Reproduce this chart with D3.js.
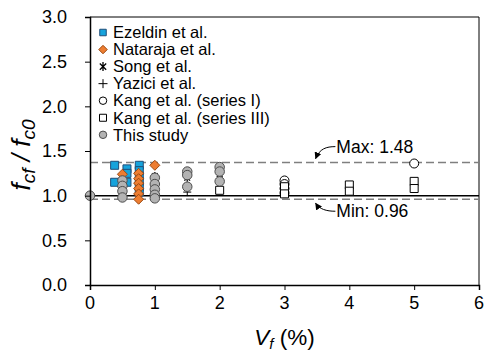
<!DOCTYPE html>
<html>
<head>
<meta charset="utf-8">
<script src="https://cdn.jsdelivr.net/npm/d3@7/dist/d3.min.js"></script>
<style>
  body { margin: 0; background: #fff; }
  text { font-family: Arial, "Liberation Sans", sans-serif; fill: #000; }
</style>
</head>
<body>
<div id="chart"></div>
<script>

// legend order = drawing order
var seriesNames = ["Ezeldin et al.", "Nataraja et al.", "Song et al.", "Yazici et al.",
  "Kang et al. (series I)", "Kang et al. (series III)", "This study"];

// [Vf (%), fcf/fc0]
var ezeldin = [[0.38, 1.34], [0.38, 1.15], [0.57, 1.30], [0.57, 1.25], [0.57, 1.15],
  [0.76, 1.34], [0.76, 1.28], [0.76, 1.22], [0.76, 1.16], [0.76, 1.10], [0.76, 1.04]];
var nataraja = [[0.5, 1.24], [0.75, 1.25], [0.75, 1.19], [0.75, 1.14], [0.75, 1.08],
  [0.75, 1.02], [0.75, 0.96], [1.0, 1.34]];
var song = [[0.5, 1.08], [1.0, 1.22], [1.5, 1.20], [2.0, 1.24]];
var yazici = [[0.5, 1.12], [1.0, 1.10], [1.5, 1.04]];
var kangI = [[3, 1.17], [3, 1.13], [3, 1.08], [3, 1.03], [5, 1.36]];
var kangIII = [[2, 1.06], [3, 1.10], [3, 1.02], [4, 1.12], [4, 1.05], [5, 1.16], [5, 1.08]];
var thisStudy = [[0, 1.0], [0.5, 1.17], [0.5, 1.11], [0.5, 1.05], [0.5, 0.98],
  [1.0, 1.20], [1.0, 1.13], [1.0, 1.07], [1.0, 1.01], [1.0, 0.97],
  [1.5, 1.27], [1.5, 1.23], [1.5, 1.10], [2.0, 1.32], [2.0, 1.27], [2.0, 1.16]];

var xTicks = [0, 1, 2, 3, 4, 5, 6];
var yTicks = [0, 0.5, 1.0, 1.5, 2.0, 2.5, 3.0];
var refLine = 1.0;
var maxLine = 1.37, minLine = 0.96;
var maxLabel = "Max: 1.48", minLabel = "Min: 0.96";

var width = 486, height = 354,
  margin = {top: 17, right: 7, bottom: 69, left: 90},
  innerWidth = width - margin.left - margin.right,
  innerHeight = height - margin.top - margin.bottom;

// scales in page coordinates, so every text can sit at the svg root
var xScale = d3.scaleLinear().domain([0, 6]).range([margin.left, margin.left + innerWidth]);
var yScale = d3.scaleLinear().domain([0, 3]).range([margin.top + innerHeight, margin.top]);

var svg = d3.select("#chart").append("svg")
  .attr("width", width)
  .attr("height", height)
  .style("display", "block");

// frame top / right
svg.append("path")
  .attr("d", "M" + xScale(0) + "," + yScale(3) + "H" + xScale(6) + "V" + yScale(0))
  .attr("fill", "none")
  .attr("stroke", "#000")
  .attr("stroke-width", 1);

// marker shapes
function asterisk(r) {
  var d = r * 0.707;
  return "M0," + (-r) + "V" + r +
    "M" + (-d) + "," + (-d) + "L" + d + "," + d +
    "M" + d + "," + (-d) + "L" + (-d) + "," + d;
}
function plus(r) {
  return "M" + (-r) + ",0H" + r + "M0," + (-r) + "V" + r;
}
function diamond(r) {
  return "M0," + (-r) + "L" + r + ",0L0," + r + "L" + (-r) + ",0Z";
}
function square(s) { return d3.symbol(d3.symbolSquare, s * s)(); }
function circle(s) { return d3.symbol(d3.symbolCircle, Math.PI * s * s / 4)(); }

var styles = [
  {data: ezeldin, path: square, size: 8, legend: 6.5, fill: "#16a3dc", stroke: "#1f4e79", sw: 1},
  {data: nataraja, path: function(s) { return diamond(s / 2); }, size: 10, legend: 8.5, fill: "#ed7d31", stroke: "#9c4a12", sw: 1},
  {data: song, path: function(s) { return asterisk(s / 2); }, size: 8, legend: 9, fill: "none", stroke: "#000", sw: 1.3},
  {data: yazici, path: function(s) { return plus(s / 2); }, size: 8, legend: 9, fill: "none", stroke: "#000", sw: 1},
  {data: kangI, path: circle, size: 9, legend: 7.5, fill: "#fff", stroke: "#000", sw: 1},
  {data: kangIII, path: square, size: 8, legend: 7, fill: "#fff", stroke: "#000", sw: 1},
  {data: thisStudy, path: circle, size: 9.5, legend: 7.5, fill: "#b3b3b3", stroke: "#4d4d4d", sw: 1}
];

// reference lines
svg.append("line")
  .attr("x1", xScale(0)).attr("x2", xScale(6))
  .attr("y1", yScale(refLine)).attr("y2", yScale(refLine))
  .attr("stroke", "#000").attr("stroke-width", 1.5);

[maxLine, minLine].forEach(function(v) {
  svg.append("line")
    .attr("x1", xScale(0)).attr("x2", xScale(6))
    .attr("y1", yScale(v)).attr("y2", yScale(v))
    .attr("stroke", "#7f7f7f").attr("stroke-width", 1.5)
    .attr("stroke-dasharray", "8,4");
});

// points
styles.forEach(function(st) {
  svg.append("g").selectAll("path")
    .data(st.data)
    .enter().append("path")
      .attr("transform", function(d) { return "translate(" + xScale(d[0]) + "," + yScale(d[1]) + ")"; })
      .attr("d", st.path(st.size))
      .attr("fill", st.fill)
      .attr("stroke", st.stroke)
      .attr("stroke-width", st.sw);
});

// axes: lines and ticks from d3, labels placed at the root
var xAxis = svg.append("g")
  .attr("transform", "translate(0," + yScale(0) + ")")
  .call(d3.axisBottom(xScale).tickValues(xTicks).tickFormat("").tickSizeOuter(0).tickSize(5));
var yAxis = svg.append("g")
  .attr("transform", "translate(" + xScale(0) + ",0)")
  .call(d3.axisLeft(yScale).tickValues(yTicks).tickFormat("").tickSizeOuter(0).tickSize(5));

[xAxis, yAxis].forEach(function(ax) {
  ax.select(".domain").attr("stroke-width", 1.5);
  ax.selectAll(".tick line").attr("stroke-width", 1);
});

var tickSize = 18;
svg.append("g").selectAll("text")
  .data(xTicks)
  .enter().append("text")
    .attr("x", function(d) { return xScale(d); })
    .attr("y", yScale(0) + 23.5)
    .attr("text-anchor", "middle")
    .attr("font-size", tickSize)
    .text(d3.format("d"));

svg.append("g").selectAll("text")
  .data(yTicks)
  .enter().append("text")
    .attr("x", xScale(0) - 23)
    .attr("y", function(d) { return yScale(d) + tickSize * 0.36; })
    .attr("text-anchor", "end")
    .attr("font-size", tickSize)
    .text(d3.format(".1f"));

// axis titles
var xTitle = svg.append("text")
  .attr("x", margin.left + innerWidth / 2)
  .attr("y", 345)
  .attr("text-anchor", "middle")
  .attr("font-size", 22.5);
xTitle.append("tspan").attr("font-style", "italic").text("V");
xTitle.append("tspan").attr("font-style", "italic").attr("font-size", 15).attr("dy", 4).text("f");
xTitle.append("tspan").attr("dy", -4).text(" (%)");

var yTitle = svg.append("text")
  .attr("transform", "translate(30,155) rotate(-90)")
  .attr("text-anchor", "middle")
  .attr("font-size", 26)
  .attr("font-style", "italic");
yTitle.append("tspan").text("f");
yTitle.append("tspan").attr("font-size", 19).attr("dy", 5).text("cf");
yTitle.append("tspan").attr("dy", -5).text(" / f");
yTitle.append("tspan").attr("font-size", 19).attr("dy", 5).text("c0");

// legend
var legendX = xScale(0) + 13, legendY = yScale(3) + 15.5, legendStep = 17.05, legendSize = 16.5;
styles.forEach(function(st, i) {
  var cy = legendY + i * legendStep;
  svg.append("path")
    .attr("transform", "translate(" + legendX + "," + cy + ")")
    .attr("d", st.path(st.legend))
    .attr("fill", st.fill)
    .attr("stroke", st.stroke)
    .attr("stroke-width", st.sw);
  svg.append("text")
    .attr("x", legendX + 10)
    .attr("y", cy + legendSize * 0.35)
    .attr("font-size", legendSize)
    .text(seriesNames[i]);
});

// max / min annotations
svg.append("defs").append("marker")
  .attr("id", "arrow")
  .attr("viewBox", "0 0 10 10")
  .attr("refX", 9).attr("refY", 5)
  .attr("markerWidth", 7).attr("markerHeight", 7)
  .attr("orient", "auto")
  .append("path").attr("d", "M0,0L10,5L0,10z").attr("fill", "#000");

var annX = xScale(3.8), tipX = xScale(3.48), annSize = 17.5;
function annotate(v, label, textY, dir) {
  var sy = yScale(v) + textY;
  var ty = yScale(v) - dir * 4;
  svg.append("path")
    .attr("d", "M" + (annX - 1) + "," + sy + "C" + (annX - 10) + "," + sy + " " + (tipX + 4) + "," + (sy + dir * 2) + " " + tipX + "," + ty)
    .attr("fill", "none")
    .attr("stroke", "#000")
    .attr("stroke-width", 1)
    .attr("marker-end", "url(#arrow)");
  svg.append("text")
    .attr("x", annX)
    .attr("y", sy + annSize * 0.35)
    .attr("font-size", annSize)
    .text(label);
}
annotate(maxLine, maxLabel, -16, 1);
annotate(minLine, minLabel, 12, -1);

</script>
</body>
</html>
